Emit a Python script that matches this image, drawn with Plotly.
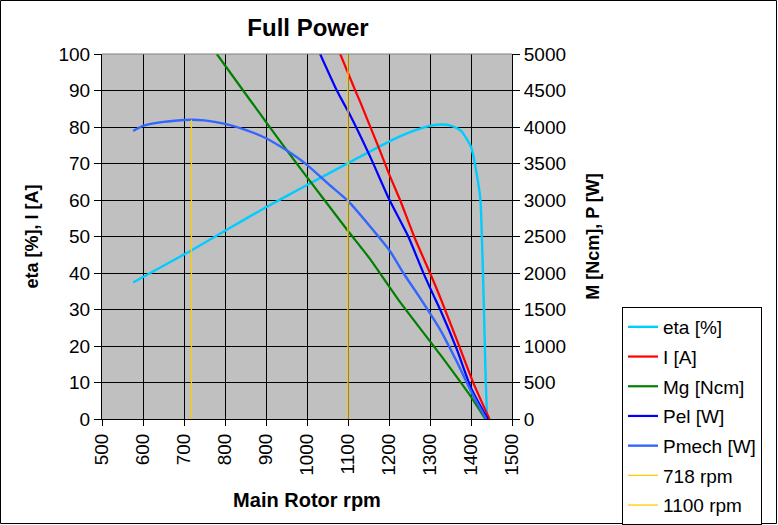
import plotly.graph_objects as go

# ---------------- data ----------------
eta_rpm = [576, 600, 650, 700, 720, 800, 900, 1000, 1100, 1200, 1250, 1300, 1330,
           1350, 1375, 1400, 1415, 1423, 1427, 1431, 1435, 1439]
eta_pct = [37.4, 38.9, 42.0, 45.1, 46.3, 51.6, 58.0, 64.1, 70.1, 76.0, 78.5, 80.3, 80.7,
           80.4, 79.0, 74.6, 66.4, 60.0, 48.3, 32.7, 14.4, 0]

i_rpm = [1081, 1117, 1130, 1174, 1201, 1227, 1262, 1300, 1325, 1365, 1406, 1445]
i_amp = [100, 90.2, 86.8, 74.6, 66.9, 60.0, 49.8, 40.0, 33.3, 21.8, 9.85, 0]

mg_rpm = [780, 861, 950, 999, 1101, 1130, 1154, 1223, 1325, 1402, 1435]
mg_ncm = [5000, 4370, 3686, 3321, 2568, 2363, 2190, 1633, 881, 287, 0]

pel_rpm = [1032, 1074, 1105, 1154, 1201, 1247, 1284, 1308, 1325, 1365, 1402, 1441]
pel_w = [5000, 4486, 4164, 3594, 3002, 2499, 1998, 1700, 1496, 960, 400, 0]

pmech_rpm = [576, 600, 650, 700, 718, 750, 800, 850, 900, 950, 1000, 1050, 1101,
             1154, 1203, 1235, 1276, 1325, 1365, 1402, 1437]
pmech_w = [3946, 4015, 4070, 4096, 4100, 4090, 4042, 3960, 3846, 3680, 3481, 3230, 2980,
           2636, 2294, 2000, 1656, 1222, 790, 356, 0]

marker_718_rpm = [718, 718]
marker_718_val = [0, 4100]
marker_1100_rpm = [1100, 1100]
marker_1100_val = [0, 5000]

x_ticks = list(range(500, 1501, 100))
left_ticks = list(range(0, 101, 10))
right_ticks = list(range(0, 5001, 500))

# ---------------- figure ----------------
FONT = "Arial, Liberation Sans, sans-serif"
W, H = 778, 525
ML, MR, MT, MB = 102, 266, 54, 106
PW = W - ML - MR
PH = H - MT - MB


def px2paper_x(p):
    return (p - ML) / PW


def px2paper_y(p):
    return (H - MB - p) / PH


fig = go.Figure()

series = [
    ("eta [%]", eta_rpm, eta_pct, "#00CCFF", 2.4, "y"),
    ("I [A]", i_rpm, i_amp, "#FF0000", 2.2, "y"),
    ("Mg [Ncm]", mg_rpm, mg_ncm, "#008000", 2.2, "y2"),
    ("Pel [W]", pel_rpm, pel_w, "#0000FF", 2.2, "y2"),
    ("Pmech [W]", pmech_rpm, pmech_w, "#3366FF", 2.4, "y2"),
    ("718 rpm", marker_718_rpm, marker_718_val, "#FFCC00", 1.3, "y2"),
    ("1100 rpm", marker_1100_rpm, marker_1100_val, "#FFCC00", 1.3, "y2"),
]
for name, xs, ys, col, wd, ax in series:
    fig.add_trace(go.Scatter(
        x=xs, y=ys, name=name, mode="lines", yaxis=ax,
        line=dict(color=col, width=wd, shape="spline", smoothing=0.6),
        legendgroup=name,
    ))

fig.update_layout(
    template="none",
    width=W, height=H,
    margin=dict(l=ML, r=MR, t=MT, b=MB, autoexpand=False),
    paper_bgcolor="white",
    plot_bgcolor="#C0C0C0",
    font=dict(family=FONT, color="black", size=18),
    title=dict(text="<b>Full Power</b>", x=px2paper_x(308), xref="paper",
               xanchor="center", y=1 - 28 / H, yanchor="middle",
               font=dict(size=24, family=FONT, color="black")),
    showlegend=True,
    legend=dict(x=px2paper_x(622), y=px2paper_y(307), xanchor="left", yanchor="top",
                bgcolor="white", bordercolor="black", borderwidth=1,
                font=dict(size=19, family=FONT, color="black"),
                tracegroupgap=2, itemwidth=30),
    xaxis=dict(range=[500, 1500], tickvals=x_ticks, ticktext=[str(v) for v in x_ticks],
               tickangle=-90, ticks="outside", ticklen=6, tickcolor="black",
               showline=True, linecolor="black", linewidth=1, automargin=False,
               showgrid=True, gridcolor="black", gridwidth=1, zeroline=False,
               tickfont=dict(size=19),
               title=dict(text="<b>Main Rotor rpm</b>", font=dict(size=20), standoff=18)),
    yaxis=dict(range=[0, 100], tickvals=left_ticks, ticks="outside", ticklen=7,
               tickcolor="black", showline=True, linecolor="black", linewidth=1,
               automargin=False,
               showgrid=True, gridcolor="black", gridwidth=1, zeroline=False,
               tickfont=dict(size=19),
               title=dict(text="<b>eta [%], I [A]</b>", font=dict(size=18), standoff=15)),
    yaxis2=dict(range=[0, 5000], tickvals=right_ticks, overlaying="y", side="right",
                ticks="outside", ticklen=7, tickcolor="black",
                showline=True, linecolor="black", linewidth=1, automargin=False,
                showgrid=False, zeroline=False, tickfont=dict(size=19),
                title=dict(text="<b>M [Ncm], P [W]</b>", font=dict(size=18), standoff=21)),
)

# grey top edge of plot area
fig.add_shape(type="line", xref="paper", yref="paper", x0=0, x1=1, y0=1, y1=1,
              line=dict(color="#808080", width=1))
# outer chart frame
fig.add_shape(type="rect", xref="paper", yref="paper",
              x0=px2paper_x(0.5), x1=px2paper_x(W - 1.5),
              y0=px2paper_y(H - 1.5), y1=px2paper_y(0.5),
              line=dict(color="black", width=1), fillcolor="rgba(0,0,0,0)", layer="above")

fig.write_html("out.html", config={"displayModeBar": False},
               post_script="document.body.style.margin='0';document.body.style.overflow='hidden';")
